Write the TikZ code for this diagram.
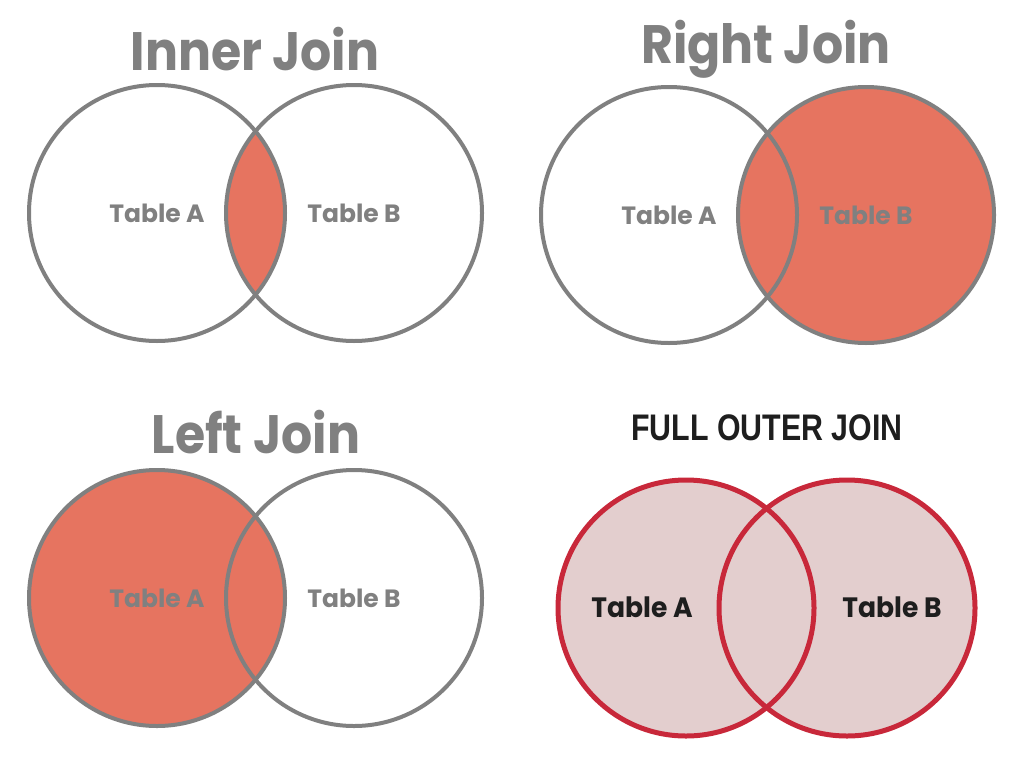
\documentclass[tikz,border=0pt]{standalone}
\usepackage{fontspec}
\setmainfont{Poppins}
\newfontfamily\outerfont{Liberation Sans}
\usetikzlibrary{backgrounds}
\definecolor{joingray}{RGB}{128,128,128}
\definecolor{joinfill}{RGB}{230,116,96}
\definecolor{outerred}{RGB}{200,40,58}
\definecolor{outerfill}{RGB}{227,206,206}
\definecolor{outerink}{RGB}{30,30,30}

\begin{document}
\begin{tikzpicture}[x=1pt,y=-1pt,
        venn/.style={circle, draw=joingray, line width=4pt, minimum size=256pt,
            inner sep=0pt, text=joingray, font=\fontsize{25}{25}\selectfont\bfseries},
        outer/.style={circle, draw=outerred, line width=5pt, minimum size=256pt,
            inner sep=0pt},
        title/.style={text=joingray, xscale=0.96, yscale=1.06,
            font=\fontsize{51}{51}\selectfont\bfseries},
        outertitle/.style={text=outerink, xscale=0.82,
            font=\outerfont\fontsize{37}{37}\selectfont\bfseries},
        outerlabel/.style={text=outerink, xscale=0.95,
            font=\fontsize{28}{28}\selectfont\bfseries}]
        \useasboundingbox (0,0) rectangle (1024,768);
        % titles
        \node[title](innerT) at (255,49)  {Inner Join};
        \node[title](rightT) at (766,49)  {Right Join};
        \node[title](leftT)  at (256,432) {Left Join};
        \node[outertitle](outerT) at (767,428) {FULL OUTER JOIN};
        % circles
        \node[venn](innerA) at (157,213) {Table A};
        \node[venn](innerB) at (354,213) {Table B};
        \node[venn](rightA) at (669,215) {Table A};
        \node[venn](rightB) at (866,215) {Table B};
        \node[venn](leftA)  at (157,598) {Table A};
        \node[venn](leftB)  at (354,598) {Table B};
        \node[outer](outerA) at (686,608) {};
        \node[outer](outerB) at (847,608) {};
        \node[outerlabel](outerLA) at (642,607) {Table A};
        \node[outerlabel](outerLB) at (892,607) {Table B};
        % shaded parts
        \begin{scope}[on background layer]
            \begin{scope}
                \clip (innerA.center) circle (128pt);
                \fill[joinfill] (innerB.center) circle (128pt);
            \end{scope}
            \fill[joinfill] (rightB.center) circle (128pt);
            \fill[joinfill] (leftA.center) circle (128pt);
            \fill[outerfill] (outerA.center) circle (128pt)
                             (outerB.center) circle (128pt);
        \end{scope}
\end{tikzpicture}
\end{document}
